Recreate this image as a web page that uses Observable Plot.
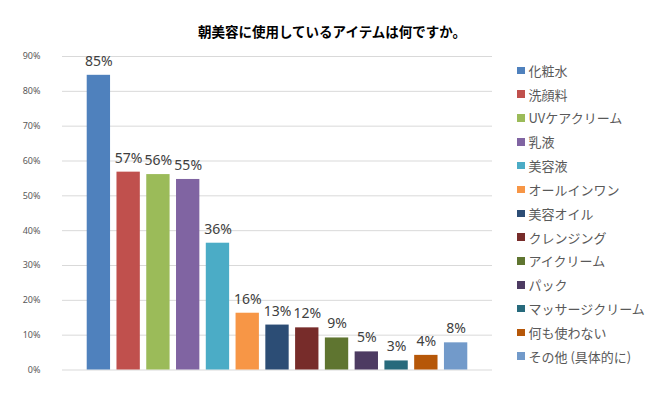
<!DOCTYPE html>
<html><head><meta charset="utf-8">
<script src="https://cdn.jsdelivr.net/npm/d3@7"></script>
<script src="https://cdn.jsdelivr.net/npm/@observablehq/plot@0.6"></script>
<style>
body{margin:0;background:#fff;font-family:"Noto Sans CJK JP","Noto Sans",sans-serif;}
#wrap{position:relative;width:656px;height:394px;}
#title{position:absolute;left:0;width:664px;top:21px;text-align:center;font-size:13.5px;font-weight:bold;color:#000;}
#legend{position:absolute;left:517px;top:58.4px;}
.li{height:23.83px;display:flex;align-items:center;font-size:13px;color:#595959;white-space:nowrap;}
.sw{width:7.5px;height:7.5px;margin-right:4px;flex:none;}
</style></head><body>
<div id="wrap"><div id="title">朝美容に使用しているアイテムは何ですか。</div><div id="chart"></div><div id="legend"></div></div>
<script>
const categories = ["化粧水","洗顔料","UVケアクリーム","乳液","美容液","オールインワン","美容オイル","クレンジング","アイクリーム","パック","マッサージクリーム","何も使わない","その他 (具体的に)"];
const values = [84.6,56.8,56.1,54.7,36.4,16.3,12.9,12.1,9.2,5.2,2.6,4.2,7.8];
const labels = ["85%","57%","56%","55%","36%","16%","13%","12%","9%","5%","3%","4%","8%"];
const colors = ["#4F81BD","#C0504D","#9BBB59","#8064A2","#4BACC6","#F79646","#2C4D75","#772C2A","#5F7530","#4D3B62","#276A7C","#B65708","#729ACA"];
const yTicks = [0,10,20,30,40,50,60,70,80,90];

const data = categories.map((c,i)=>({cat:c,value:values[i],label:labels[i]}));

const chart = Plot.plot({
  width:656, height:394,
  marginTop:56, marginBottom:24.5, marginLeft:62, marginRight:164,
  style:{fontFamily:"'Noto Sans','Noto Sans CJK JP',sans-serif", background:"transparent"},
  x:{domain:categories, paddingInner:0.216, paddingOuter:0.83, round:false, axis:null},
  y:{domain:[0,90], ticks:yTicks, tickFormat:d=>d+"%", tickSize:0, tickPadding:22, label:null},
  color:{domain:categories, range:colors},
  marks:[
    Plot.gridY(yTicks,{stroke:"#d9d9d9", strokeOpacity:1}),
    Plot.axisY(yTicks,{tickSize:0, tickPadding:22, tickFormat:d=>d+"%", fontSize:9, fill:"#595959", label:null}),
    Plot.barY(data,{x:"cat", y:"value", fill:"cat"}),
    Plot.text(data,{x:"cat", y:"value", text:"label", dy:-14, fontSize:14, fill:"#404040"})
  ]
});
document.getElementById("chart").appendChild(chart);

const lg = document.getElementById("legend");
categories.forEach((c,i)=>{
  const d = document.createElement("div"); d.className="li";
  const s = document.createElement("span"); s.className="sw"; s.style.background=colors[i];
  const t = document.createElement("span"); t.textContent=c;
  d.appendChild(s); d.appendChild(t); lg.appendChild(d);
});
</script></body></html>
